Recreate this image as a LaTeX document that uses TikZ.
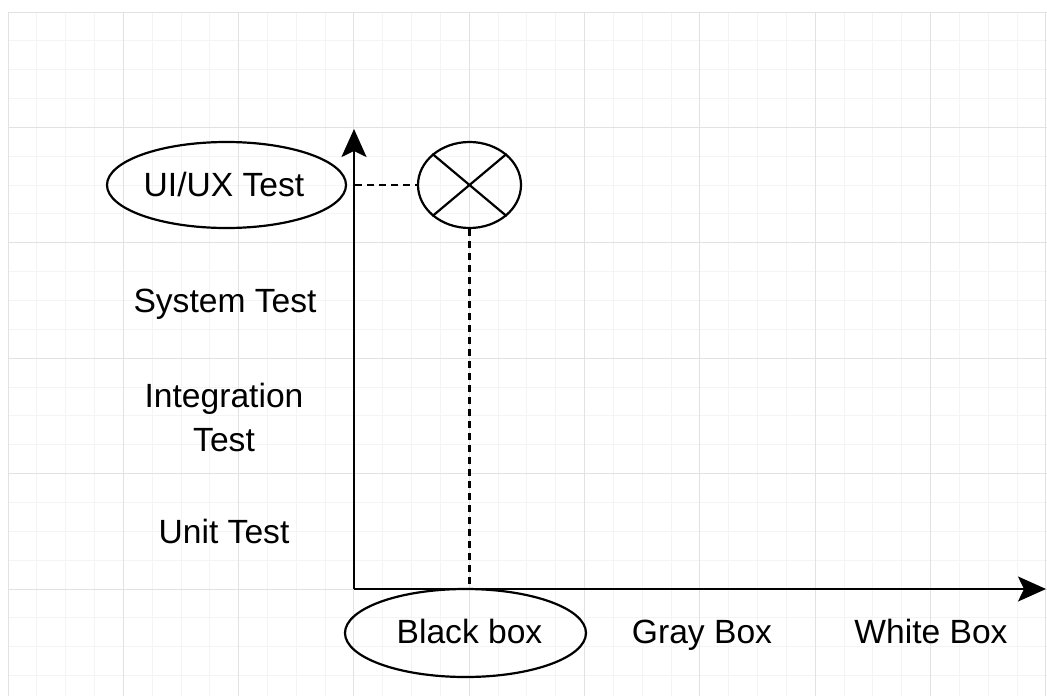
\documentclass[tikz,border=0pt]{standalone}
\usepackage{fontspec}
\setmainfont{Liberation Sans}
\usetikzlibrary{arrows.meta,shapes.geometric}
\definecolor{gridmajor}{RGB}{226,226,226}
\definecolor{gridminor}{RGB}{244,244,244}
\begin{document}
\begin{tikzpicture}[x=1pt,y=-1pt,
  lbl/.style={font=\fontsize{33.6}{44}\selectfont, text=black, inner sep=0pt, align=center},
  oval/.style={draw=black, ellipse, line width=2.2pt, inner sep=0pt},
  axisline/.style={draw=black, line width=2.3pt, -{Stealth[length=28pt,width=25pt,inset=6pt]}},
  guide/.style={draw=black, line width=2.3pt, dash pattern=on 7pt off 5pt},
  crossline/.style={draw=black, line width=2.2pt},
  minorline/.style={draw=gridminor, line width=1pt},
  majorline/.style={draw=gridmajor, line width=1pt}
  ]
\useasboundingbox (0,0) rectangle (1047,696);
\fill[white] (0,0) rectangle (1047,696);
% grid
\foreach \i in {0,...,36} \draw[minorline] ({8+\i*28.833},12) -- ({8+\i*28.833},696);
\foreach \j in {0,...,23} \draw[minorline] (8,{12+\j*28.85}) -- (1047,{12+\j*28.85});
\foreach \i in {0,...,9} \draw[majorline] ({8+\i*115.33},12) -- ({8+\i*115.33},696);
\foreach \j in {0,...,5} \draw[majorline] (8,{12+\j*115.4}) -- (1047,{12+\j*115.4});

% axes
\coordinate (O) at (354,589);
\coordinate (ytip) at (354,129);
\coordinate (xtip) at (1046,589);
\coordinate (yhit) at (355,185);
\draw[axisline] (O) -- (ytip);
\draw[axisline] (O) -- (xtip);

% marker
\node[oval, minimum width=103pt, minimum height=86pt] (mark) at (469.5,185) {};
\draw[crossline] (mark.north east) -- (mark.south west);
\draw[crossline] (mark.north west) -- (mark.south east);
\draw[guide] (yhit) -- (mark.west);
\draw[guide] (mark.south) -- (mark.south |- O);

% y labels
\node[oval, minimum width=239pt, minimum height=86pt] (uiux) at (226.5,185) {};
\node[lbl, anchor=base] (uiuxt) at (224,196) {UI/UX Test};
\node[lbl, anchor=base] (sys) at (225,312) {System Test};
\node[lbl] (integ) at (224,417) {Integration\\Test};
\node[lbl, anchor=base] (unit) at (224,543) {Unit Test};

% x labels
\node[oval, minimum width=241pt, minimum height=88pt] (black) at (465.5,633) {};
\node[lbl, anchor=base] (blackt) at (469.5,643) {Black box};
\node[lbl, anchor=base] (gray) at (702,643) {Gray Box};
\node[lbl, anchor=base] (white) at (931,643) {White Box};
\end{tikzpicture}
\end{document}
